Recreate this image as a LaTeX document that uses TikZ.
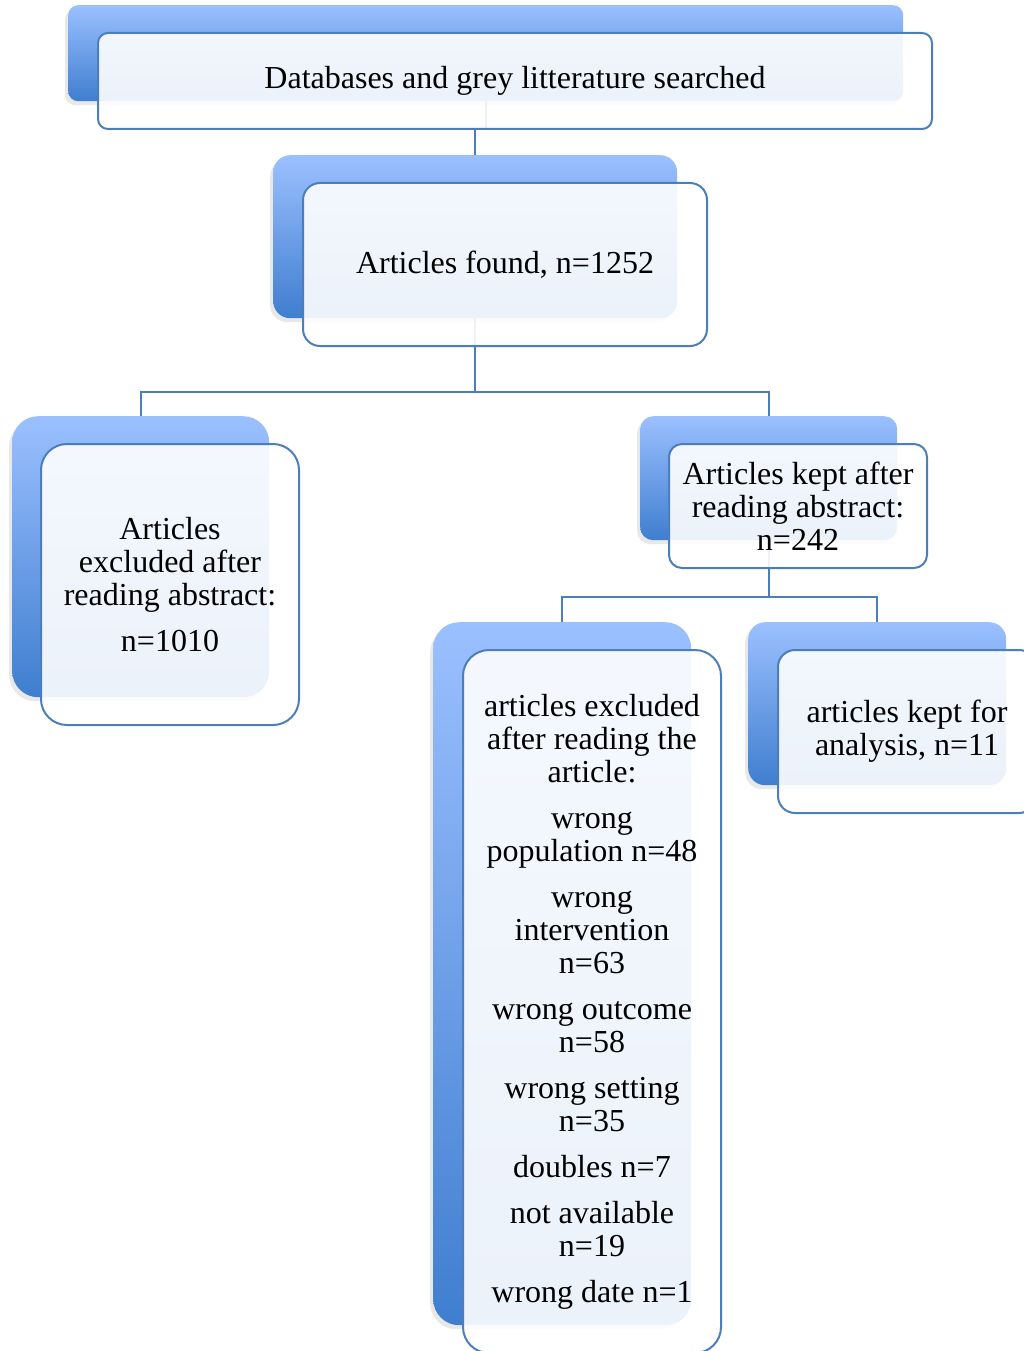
\documentclass[tikz,border=0pt]{standalone}
\usepackage{fontspec}
\setmainfont{Liberation Serif}
\usetikzlibrary{shadows}
\definecolor{backtop}{RGB}{155,192,255}
\definecolor{backbot}{RGB}{63,126,207}
\definecolor{edge}{RGB}{76,126,188}

\begin{document}
\begin{tikzpicture}[x=1pt, y=-1pt]
    \tikzstyle{back} = [rectangle, inner sep=0pt, top color=backtop,
        bottom color=backbot, drop shadow={shadow xshift=-3pt,
        shadow yshift=-4pt, opacity=0.18}]
    \tikzstyle{front} = [rectangle, draw=edge, line width=2pt, fill=white,
        fill opacity=0.9, text opacity=1, align=center, inner sep=0pt,
        font=\fontsize{32}{33}\selectfont]
    \tikzstyle{link} = [draw=edge, line width=2pt]

    \useasboundingbox (0,0) rectangle (1024,1351);

    % back boxes
    \node(dbback) [back, minimum width=835pt, minimum height=96pt,
        rounded corners=10pt]
        at (68,5) [anchor=north west] {};
    \node(foundback) [back, minimum width=404pt, minimum height=163pt,
        rounded corners=17pt]
        at (273,155) [anchor=north west] {};
    \node(exclback) [back, minimum width=257pt, minimum height=281pt,
        rounded corners=26pt]
        at (12,416) [anchor=north west] {};
    \node(keptback) [back, minimum width=257pt, minimum height=124pt,
        rounded corners=13pt]
        at (640,416) [anchor=north west] {};
    \node(fullback) [back, minimum width=258pt, minimum height=703pt,
        rounded corners=26pt]
        at (433,622) [anchor=north west] {};
    \node(finalback) [back, minimum width=258pt, minimum height=163pt,
        rounded corners=17pt]
        at (748,622) [anchor=north west] {};

    % connectors
    \draw[link] (dbback.south) -- ++(0,28) -| (foundback.north);
    \draw[link] (foundback.south) -- ++(0,74) -| (exclback.north);
    \draw[link] (foundback.south) -- ++(0,74) -| (keptback.north);
    \draw[link] (keptback.south) -- ++(0,57) -| (fullback.north);
    \draw[link] (keptback.south) -- ++(0,57) -| (finalback.north);

    % front boxes
    \node(db) [front, minimum width=834pt, minimum height=96pt,
        rounded corners=10pt]
        at (97,32) [anchor=north west]
        {\raisebox{-3pt}{Databases and grey litterature searched}};
    \node(found) [front, minimum width=404pt, minimum height=163pt,
        rounded corners=17pt]
        at (302,182) [anchor=north west]
        {Articles found, n=1252};
    \node(excl) [front, minimum width=258pt, minimum height=281pt,
        rounded corners=26pt]
        at (40,443) [anchor=north west]
        {Articles\\ excluded after\\ reading abstract:\\[13pt] n=1010};
    \node(kept) [front, minimum width=258pt, minimum height=124pt,
        rounded corners=13pt]
        at (668,443) [anchor=north west]
        {Articles kept after\\ reading abstract:\\ n=242};
    \node(full) [front, minimum width=258pt, minimum height=703pt,
        rounded corners=26pt]
        at (462,649) [anchor=north west]
        {articles excluded\\ after reading the\\ article:\\[13pt]
        wrong\\ population n=48\\[13pt]
        wrong\\ intervention\\ n=63\\[13pt]
        wrong outcome\\ n=58\\[13pt]
        wrong setting\\ n=35\\[13pt]
        doubles n=7\\[13pt]
        not available\\ n=19\\[13pt]
        wrong date n=1};
    \node(final) [front, minimum width=258pt, minimum height=163pt,
        rounded corners=17pt]
        at (777,649) [anchor=north west]
        {articles kept for\\ analysis, n=11};
\end{tikzpicture}
\end{document}
